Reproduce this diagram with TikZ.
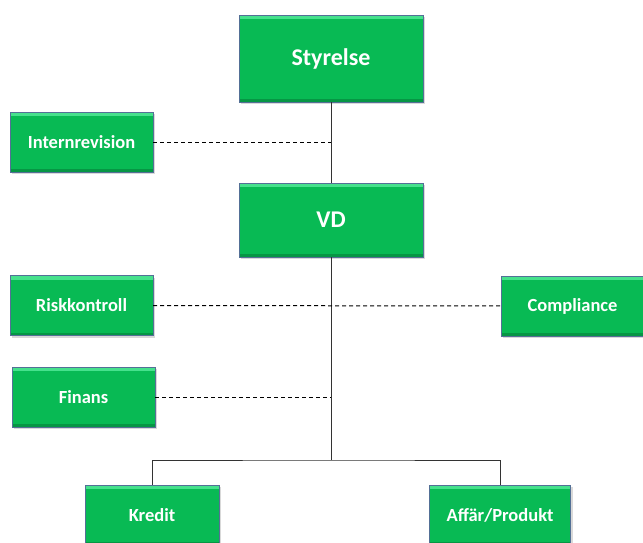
\documentclass[tikz,border=0pt]{standalone}
\usepackage{fontspec}
\setmainfont{Carlito}
\usetikzlibrary{shadows}
\definecolor{boxgreen}{RGB}{8,186,84}
\definecolor{boxlight}{RGB}{70,225,140}
\definecolor{boxdark}{RGB}{6,150,68}
\definecolor{boxedge}{RGB}{84,112,150}
\tikzset{
  unit/.style = {draw=boxedge, fill=boxgreen, text=white,
                 font=\bfseries\fontsize{18.5}{22}\selectfont,
                 minimum width=143pt, minimum height=60pt, inner sep=0,
                 drop shadow={shadow xshift=2pt, shadow yshift=-2pt, opacity=.3},
                 path picture={
                   \fill[boxlight] (path picture bounding box.north west)
                     rectangle ([yshift=-4pt]path picture bounding box.north east);
                   \fill[boxdark] (path picture bounding box.south west)
                     rectangle ([yshift=3pt]path picture bounding box.south east);
                 }},
  topunit/.style = {unit, minimum width=184pt,
                 font=\bfseries\fontsize{24}{28}\selectfont},
  line/.style = {draw=black!80, line width=1pt},
  dotline/.style = {draw=black, line width=1pt, dash pattern=on 4pt off 3pt},
}
\begin{document}
\begin{tikzpicture}[x=1pt,y=-1pt]
\useasboundingbox (0,0) rectangle (643,543);
\node[topunit, minimum height=87pt] (sty) at (331,58.5) {Styrelse};
\node[unit] (intrev) at (81.5,142) {Internrevision};
\node[topunit, minimum height=74pt] (vd) at (331,220) {VD};
\node[unit] (risk) at (81.5,305.5) {Riskkontroll};
\node[unit] (comp) at (572.5,306) {Compliance};
\node[unit] (fin) at (83.5,397) {Finans};
\node[unit, minimum width=134pt] (kred) at (152,515) {Kredit};
\node[unit, minimum width=141pt] (affar) at (500,515) {Affär/Produkt};
% tree
\coordinate (fork) at (331,460);
\draw[line] (sty) -- (vd);
\draw[line] (vd) -- (fork);
\draw[line] (kred) |- (fork) -| (affar);
% staff units
\draw[dotline] (intrev) -- (intrev -| vd);
\draw[dotline] (risk) -- (comp);
\draw[dotline] (fin) -- (fin -| vd);
\end{tikzpicture}
\end{document}
